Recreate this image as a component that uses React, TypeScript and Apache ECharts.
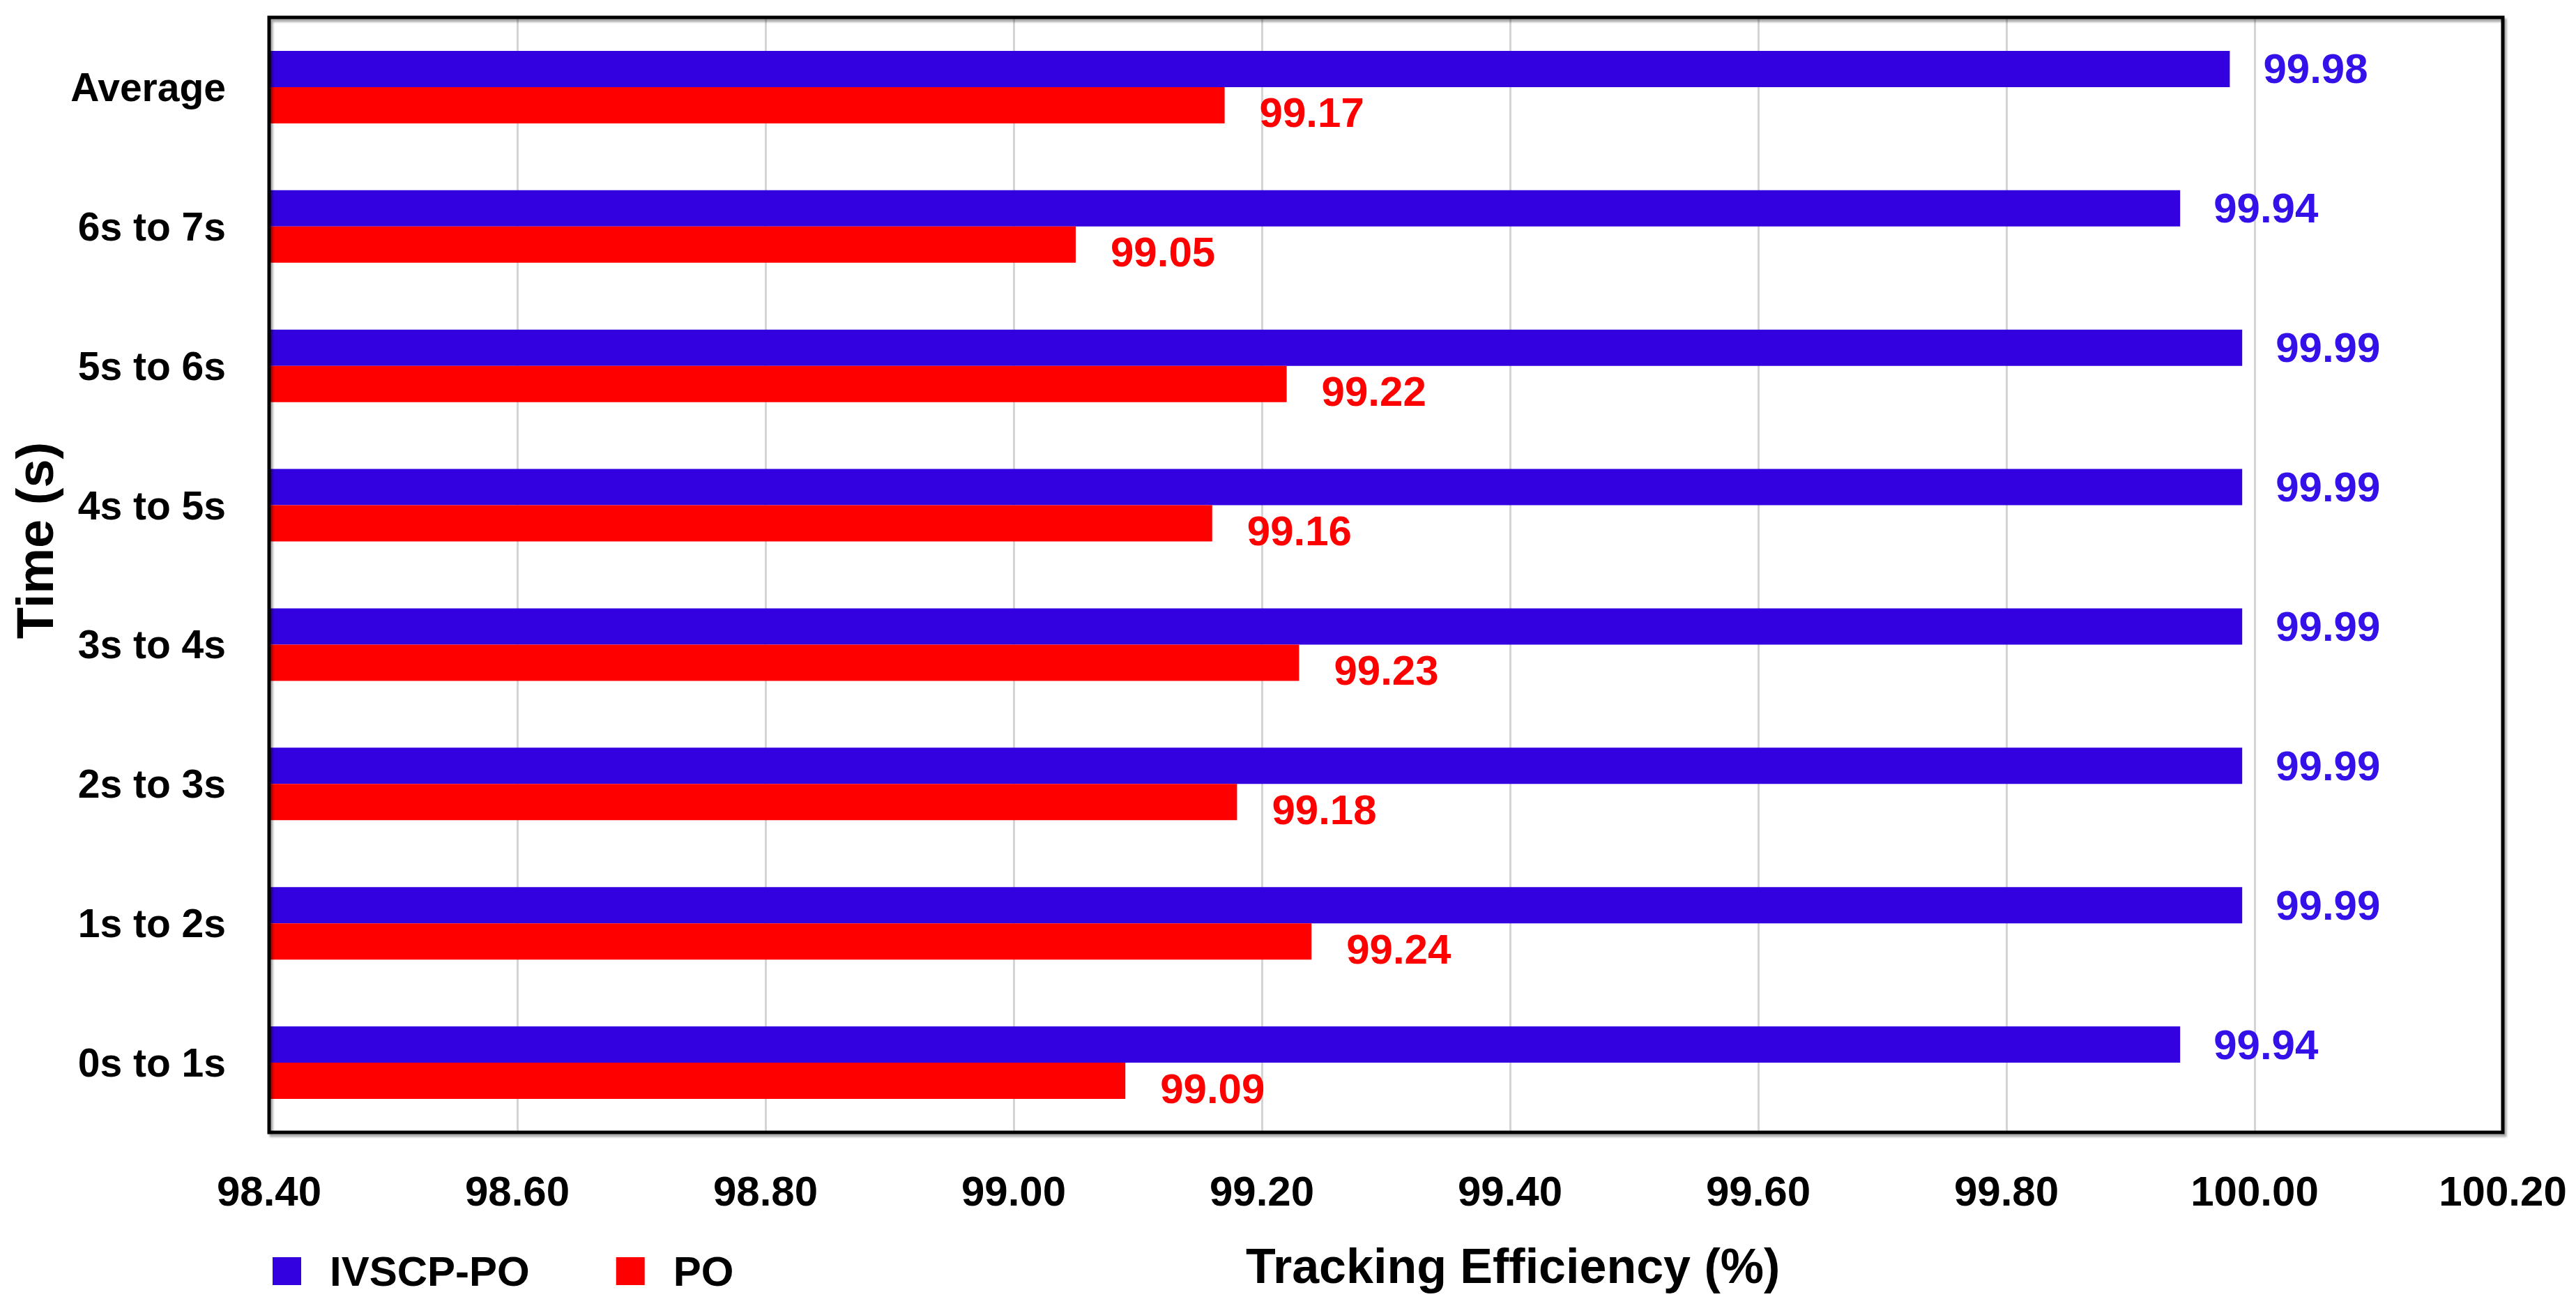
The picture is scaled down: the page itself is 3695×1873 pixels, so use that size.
import { useEffect, useRef } from "react";
import * as echarts from "echarts";

const categories = [
  "0s to 1s",
  "1s to 2s",
  "2s to 3s",
  "3s to 4s",
  "4s to 5s",
  "5s to 6s",
  "6s to 7s",
  "Average",
];
const ivscpPo = [99.94, 99.99, 99.99, 99.99, 99.99, 99.99, 99.94, 99.98];
const po = [99.09, 99.24, 99.18, 99.23, 99.16, 99.22, 99.05, 99.17];

const FONT = "'Liberation Sans', Arial, sans-serif";
const BLUE = "#3300E0";
const RED = "#FF0000";

export default function App() {
  const ref = useRef<HTMLDivElement>(null);

  useEffect(() => {
    if (!ref.current) return;
    const chart = echarts.init(ref.current, undefined, { renderer: "svg" });

    const grid = { left: 386, top: 25, width: 3204, height: 1599 };

    chart.setOption({
      animation: false,
      backgroundColor: "#fff",
      textStyle: { fontFamily: FONT },
      grid: { ...grid, containLabel: false },
      legend: {
        left: 386,
        top: 1788,
        itemWidth: 41,
        itemHeight: 40,
        itemGap: 124,
        icon: "rect",
        data: ["IVSCP-PO", "PO"],
        textStyle: {
          fontFamily: FONT,
          fontSize: 60,
          fontWeight: "bold",
          color: "#000",
          padding: [0, 0, 0, 36],
        },
      },
      xAxis: {
        type: "value",
        min: 98.4,
        max: 100.2,
        interval: 0.2,
        axisLine: { show: false },
        axisTick: { show: false },
        axisLabel: {
          margin: 54,
          fontSize: 60,
          fontWeight: "bold",
          color: "#000",
          fontFamily: FONT,
          formatter: (v: number) => v.toFixed(2),
        },
        splitLine: { show: true, lineStyle: { color: "#D4D4D4", width: 3 } },
      },
      yAxis: {
        type: "category",
        data: categories,
        axisLine: { show: false },
        axisTick: { show: false },
        splitLine: { show: false },
        axisLabel: {
          margin: 62,
          fontSize: 57,
          fontWeight: "bold",
          color: "#000",
          fontFamily: FONT,
        },
      },
      series: [
        {
          name: "IVSCP-PO",
          type: "bar",
          data: ivscpPo,
          barWidth: 52,
          barGap: "0%",
          itemStyle: { color: BLUE },
          label: {
            show: true,
            position: "right",
            distance: 48,
            fontSize: 60,
            fontWeight: "bold",
            fontFamily: FONT,
            color: "#3311E8",
            formatter: (p: any) => Number(p.value).toFixed(2),
          },
        },
        {
          name: "PO",
          type: "bar",
          data: po,
          barWidth: 52,
          barGap: "0%",
          itemStyle: { color: RED },
          label: {
            show: true,
            position: "right",
            distance: 50,
            offset: [0, 11],
            fontSize: 60,
            fontWeight: "bold",
            fontFamily: FONT,
            color: RED,
            formatter: (p: any) => Number(p.value).toFixed(2),
          },
        },
      ],
      graphic: [
        {
          type: "rect",
          z: 100,
          shape: { x: grid.left, y: grid.top, width: grid.width, height: grid.height },
          style: {
            fill: "none",
            stroke: "#000",
            lineWidth: 5,
            shadowColor: "rgba(0,0,0,0.35)",
            shadowBlur: 3,
            shadowOffsetX: 3,
            shadowOffsetY: 4,
          },
        },
        {
          type: "text",
          x: 1787,
          y: 1816,
          style: {
            text: "Tracking Efficiency (%)",
            fontFamily: FONT,
            fontSize: 70,
            fontWeight: "bold",
            fill: "#000",
            align: "left",
            verticalAlign: "middle",
          },
        },
        {
          type: "text",
          x: 50,
          y: 775,
          rotation: Math.PI / 2,
          style: {
            text: "Time (s)",
            fontFamily: FONT,
            fontSize: 74,
            fontWeight: "bold",
            fill: "#000",
            align: "center",
            verticalAlign: "middle",
          },
        },
      ],
    });

    return () => {
      chart.dispose();
    };
  }, []);

  return (
    <div
      ref={ref}
      style={{ position: "fixed", left: 0, top: 0, width: 3695, height: 1873 }}
    />
  );
}
